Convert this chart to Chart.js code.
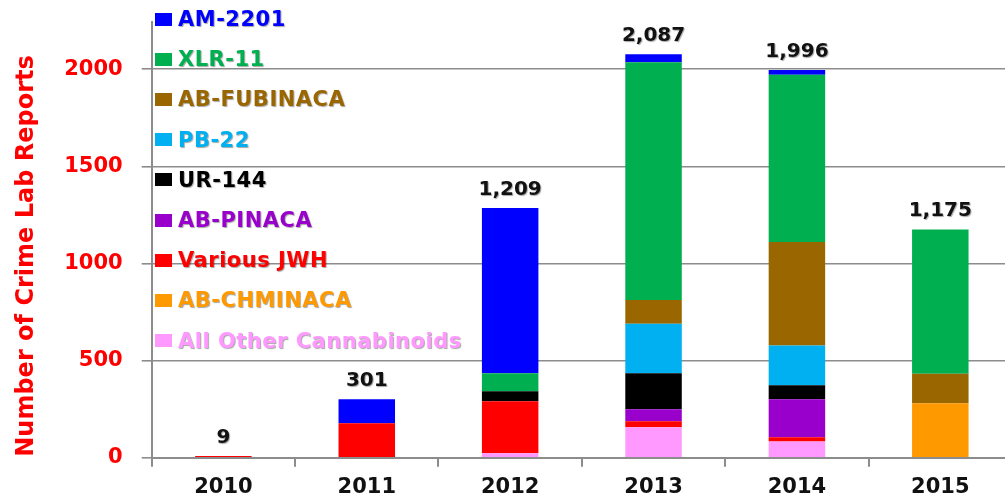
<!DOCTYPE html>
<html>
<head>
<meta charset="utf-8">
<script src="https://cdn.jsdelivr.net/npm/chart.js@4"></script>
<style>
  html, body { margin:0; padding:0; background:#fff; overflow:hidden; width:1005px; height:500px; }
  #wrap { position:relative; width:1012px; height:500px; }
  #legend { position:absolute; left:0; top:0; }
  .li { position:absolute; left:155px; height:24px; display:flex; align-items:center; white-space:nowrap; }
  .sw { width:17px; height:13px; margin-right:6px; }
  .tx { font-family:"DejaVu Sans", sans-serif; font-weight:bold; font-size:21px; text-shadow:1px 1px 1px rgba(0,0,0,0.35); letter-spacing:0.5px; }
</style>
</head>
<body>
<div id="wrap">
  <canvas id="c" width="1012" height="500" style="width:1012px;height:500px;display:block"></canvas>
  <div id="legend"></div>
</div>
<script>
// ---- data ----
const years = ['2010','2011','2012','2013','2014','2015'];
const allOther  = [0, 0, 23, 157, 84, 0];
const chminaca  = [0, 0, 0, 0, 0, 280];
const jwh       = [9, 177, 268, 31, 21, 0];
const pinaca    = [0, 0, 0, 62, 196, 0];
const ur144     = [0, 0, 51, 185, 72, 0];
const pb22      = [0, 0, 0, 255, 204, 0];
const fubinaca  = [0, 0, 0, 122, 534, 152];
const xlr11     = [0, 0, 93, 1224, 861, 743];
const am2201    = [0, 124, 850, 41, 24, 0];
const totalLabels = ['9', '301', '1,209', '2,087', '1,996', '1,175'];
const yTicks = [0, 500, 1000, 1500, 2000];
const yTitle = 'Number of Crime Lab Reports';

// bottom-to-top stacking order
const series = [
  { name: 'All Other Cannabinoids', data: allOther, color: '#FF99FF' },
  { name: 'AB-CHMINACA',            data: chminaca, color: '#FF9900' },
  { name: 'Various JWH',            data: jwh,      color: '#FF0000' },
  { name: 'AB-PINACA',              data: pinaca,   color: '#9900CC' },
  { name: 'UR-144',                 data: ur144,    color: '#000000' },
  { name: 'PB-22',                  data: pb22,     color: '#00B0F0' },
  { name: 'AB-FUBINACA',            data: fubinaca, color: '#996600' },
  { name: 'XLR-11',                 data: xlr11,    color: '#00B050' },
  { name: 'AM-2201',                data: am2201,   color: '#0000FF' }
];

// HTML legend (top to bottom = reverse stacking)
const legendEl = document.getElementById('legend');
series.slice().reverse().forEach((s, i) => {
  const d = document.createElement('div');
  d.className = 'li';
  d.style.top = (19 + i * 40.2 - 12) + 'px';
  d.innerHTML = '<div class="sw" style="background:' + s.color + '"></div><span class="tx" style="color:' + s.color + '">' + s.name + '</span>';
  legendEl.appendChild(d);
});

const totalsPlugin = {
  id: 'totals',
  afterDatasetsDraw(chart) {
    const ctx = chart.ctx;
    const y = chart.scales.y;
    const lastMeta = chart.getDatasetMeta(series.length - 1);
    ctx.save();
    ctx.font = 'bold 20px "DejaVu Sans"';
    ctx.textAlign = 'center';
    ctx.textBaseline = 'alphabetic';
    ctx.shadowColor = 'rgba(0,0,0,0.35)';
    ctx.shadowOffsetX = 1; ctx.shadowOffsetY = 1; ctx.shadowBlur = 1;
    ctx.fillStyle = '#111';
    years.forEach((yr, i) => {
      let sum = 0;
      series.forEach(s => sum += s.data[i]);
      const x = lastMeta.data[i].x;
      ctx.fillText(totalLabels[i], x, y.getPixelForValue(sum) - 13);
    });
    // y axis title
    ctx.shadowColor = 'transparent';
    ctx.translate(26.5, 256);
    ctx.rotate(-Math.PI / 2);
    ctx.font = 'bold 24px "DejaVu Sans"';
    ctx.textBaseline = 'middle';
    ctx.fillStyle = '#FF0000';
    ctx.fillText(yTitle, 0, 0);
    ctx.restore();
  }
};

new Chart(document.getElementById('c'), {
  type: 'bar',
  data: {
    labels: years,
    datasets: series.map(s => ({
      label: s.name,
      data: s.data,
      backgroundColor: s.color,
      borderWidth: 0,
      categoryPercentage: 1,
      barPercentage: 0.394
    }))
  },
  options: {
    responsive: false,
    animation: false,
    layout: { padding: { top: 22, left: 0, right: 0, bottom: 0 } },
    plugins: { legend: { display: false }, tooltip: { enabled: false } },
    scales: {
      x: {
        stacked: true,
        afterFit: s => { s.height = 42.3; s.paddingLeft = 0; s.paddingRight = 0; },
        grid: { display: true, drawOnChartArea: false, drawTicks: true, tickLength: 9, offset: true, color: '#8c8c8c', lineWidth: 2 },
        border: { display: true, color: '#8c8c8c', width: 2 },
        ticks: { color: '#111', font: { family: 'DejaVu Sans', weight: 'bold', size: 21 }, padding: 8 }
      },
      y: {
        stacked: true,
        min: 0,
        max: 2243,
        afterFit: s => { s.width = 151.7; s.paddingTop = 0; s.paddingBottom = 0; },
        afterBuildTicks: s => { s.ticks = yTicks.map(v => ({ value: v })); },
        grid: { color: '#8c8c8c', lineWidth: 1.6, tickLength: 10 },
        border: { display: true, color: '#8c8c8c', width: 2 },
        ticks: { color: '#FF0000', font: { family: 'DejaVu Sans', weight: 'bold', size: 21 }, padding: 19, callback: v => String(v) }
      }
    }
  },
  plugins: [totalsPlugin]
});
</script>
</body>
</html>
